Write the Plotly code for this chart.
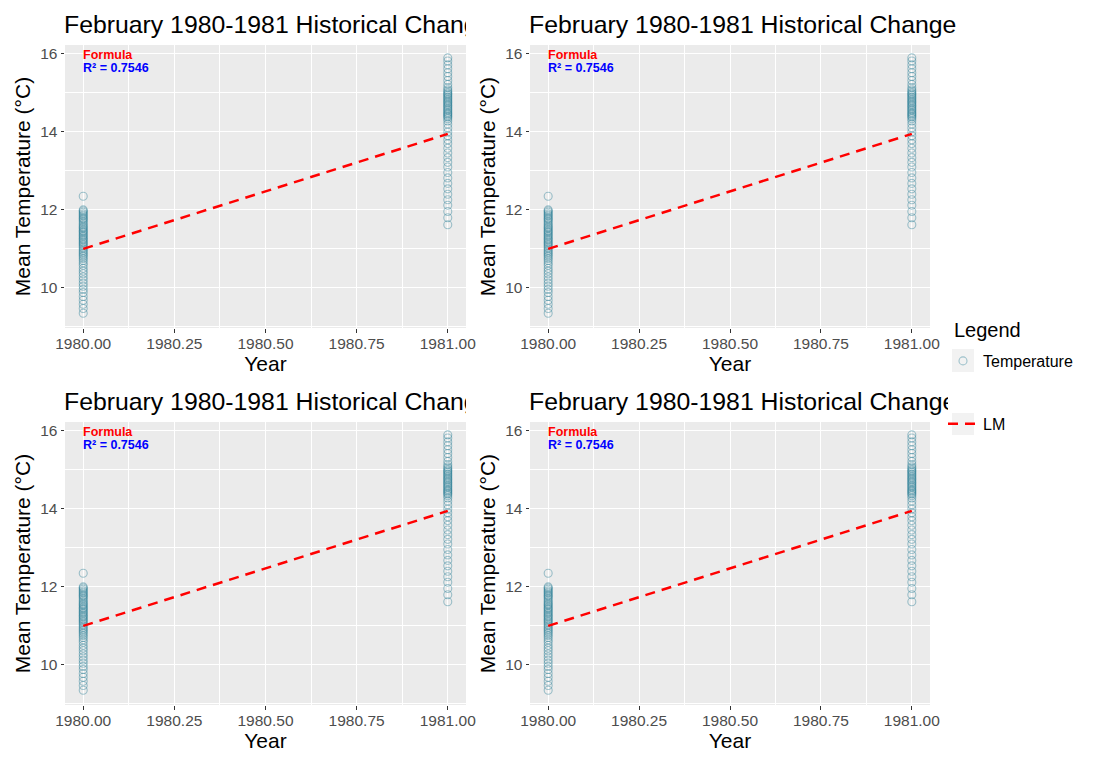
import plotly.graph_objects as go

# ---------------- data ----------------
years = [1980, 1981]
temp_1980 = [12.35, 12.0, 11.97, 11.94, 11.9, 11.87, 11.84, 11.8, 11.77, 11.74, 11.7, 11.66, 11.62,
             11.58, 11.55, 11.52, 11.48, 11.45, 11.42, 11.38, 11.35, 11.32, 11.28, 11.25, 11.22,
             11.18, 11.15, 11.12, 11.08, 11.04, 11.0, 10.96, 10.92, 10.88, 10.84, 10.8, 10.75,
             10.7, 10.64, 10.58, 10.5, 10.43, 10.36, 10.28, 10.2, 10.12, 10.04, 9.96, 9.88, 9.78,
             9.68, 9.58, 9.47, 9.35]
temp_1981 = [15.9, 15.82, 15.72, 15.62, 15.52, 15.42, 15.32, 15.22, 15.14, 15.08, 15.04, 15.0,
             14.97, 14.94, 14.9, 14.87, 14.84, 14.8, 14.77, 14.74, 14.7, 14.67, 14.64, 14.6,
             14.57, 14.54, 14.5, 14.47, 14.44, 14.41, 14.38, 14.34, 14.28, 14.2, 14.1, 14.0, 13.9,
             13.8, 13.7, 13.58, 13.46, 13.34, 13.22, 13.1, 12.96, 12.82, 12.68, 12.54, 12.4,
             12.26, 12.12, 11.96, 11.8, 11.62]
lm_fit = [11.0, 13.95]
x_ticks = [1980.0, 1980.25, 1980.5, 1980.75, 1981.0]
y_ticks = [10, 12, 14, 16]
titles = ["February 1980-1981 Historical Change"] * 4
formula_label = "Formula"
r2_label = "R² = 0.7546"
legend_title = "Legend"

# ---------------- layout helpers ----------------
OFF = 8                      # page body margin of the html page
W, H = 1103 - OFF, 768 - OFF
FONT = "Liberation Sans, Arial, sans-serif"


def px(x):
    return (x - OFF) / W


def py(y):
    return 1 - (y - OFF) / H


panels = [(65, 466, 45, 328), (530, 930, 45, 328), (65, 466, 422, 705), (530, 930, 422, 705)]
title_cells = [(64, 466, 12, 42), (529, 1040, 12, 42), (64, 466, 389, 419), (529, 948, 389, 419)]

xs = [years[0]] * len(temp_1980) + [years[1]] * len(temp_1981)
ys = temp_1980 + temp_1981

fig = go.Figure()
layout = dict(
    width=W, height=H,
    margin=dict(l=0, r=0, t=0, b=0),
    paper_bgcolor="white",
    plot_bgcolor="white",
    font=dict(family=FONT, color="black"),
    showlegend=True,
    annotations=[],
    shapes=[],
)

for i, (x0, x1, y0, y1) in enumerate(panels):
    n = i + 1
    xa = "x" if n == 1 else f"x{n}"
    ya = "y" if n == 1 else f"y{n}"
    fig.add_trace(go.Scatter(
        x=xs, y=ys, mode="markers", xaxis=xa, yaxis=ya,
        name="Temperature", legendgroup="temp", showlegend=(i == 0),
        marker=dict(symbol="circle-open", size=8, color="rgba(30,120,145,0.4)",
                    line=dict(width=1.1)),
        hoverinfo="skip",
    ))
    fig.add_trace(go.Scatter(
        x=years, y=lm_fit, mode="lines", xaxis=xa, yaxis=ya,
        name="LM", legendgroup="lm", showlegend=(i == 0),
        line=dict(color="red", width=2.5, dash="10px,7px"),
        hoverinfo="skip",
    ))
    layout["xaxis" if n == 1 else f"xaxis{n}"] = dict(
        domain=[px(x0), px(x1)], anchor=ya, range=[1979.95, 1981.05],
        tickvals=x_ticks, tickformat=".2f",
        ticks="outside", ticklen=3.5, tickwidth=1.1, tickcolor="#333333",
        tickfont=dict(size=15.5, color="#4d4d4d"), ticklabelstandoff=-2,
        showgrid=True, gridcolor="white", gridwidth=1.2, zeroline=False,
        minor=dict(dtick=0.25, tick0=1980.125, showgrid=True, gridcolor="white", gridwidth=0.55),
        title=dict(text="Year", font=dict(size=21), standoff=0),
        automargin=False, fixedrange=True,
    )
    layout["yaxis" if n == 1 else f"yaxis{n}"] = dict(
        domain=[py(y1), py(y0)], anchor=xa, range=[8.97, 16.23],
        tickvals=y_ticks,
        ticks="outside", ticklen=3.5, tickwidth=1.1, tickcolor="#333333",
        tickfont=dict(size=15.5, color="#4d4d4d"),
        showgrid=True, gridcolor="white", gridwidth=1.2, zeroline=False,
        minor=dict(dtick=2, tick0=9, showgrid=True, gridcolor="white", gridwidth=0.55),
        title=dict(text="Mean Temperature (°C)", font=dict(size=21), standoff=3),
        automargin=False, fixedrange=True,
    )
    # grey panel background
    layout["shapes"].append(dict(
        type="rect", xref=f"{xa} domain", yref=f"{ya} domain", x0=0, x1=1, y0=0, y1=1,
        fillcolor="#ebebeb", line=dict(width=0), layer="below"))
    # formula + R² block (one text, two coloured lines, tight line spacing)
    layout["annotations"].append(dict(
        x=1980.0, y=15.81, xref=xa, yref=ya,
        text=(f"<span style='font-size:12.5px;color:red'><b>{formula_label}</b></span><br>"
              f"<span style='font-size:12.5px;color:blue'><b>{r2_label}</b></span>"),
        showarrow=False, xanchor="left", yanchor="middle", align="left", xshift=-2,
        font=dict(size=10.2, color="black", family=FONT)))

    # panel titles, clipped to their cell via a text trace on a hidden axis
    tx0, tx1, ty0, ty1 = title_cells[i]
    m = i + 5
    fig.add_trace(go.Scatter(
        x=[0], y=[0.5], mode="text", text=[titles[i]], textposition="middle right",
        textfont=dict(size=24.8, color="black", family=FONT),
        xaxis=f"x{m}", yaxis=f"y{m}", showlegend=False, hoverinfo="skip", cliponaxis=True,
    ))
    layout[f"xaxis{m}"] = dict(domain=[px(tx0), min(px(tx1), 1)], anchor=f"y{m}", range=[0, 1],
                               visible=False, fixedrange=True)
    layout[f"yaxis{m}"] = dict(domain=[py(ty1), py(ty0)], anchor=f"x{m}", range=[0, 1],
                               visible=False, fixedrange=True)

layout["legend"] = dict(
    x=px(943), y=py(344), xanchor="left", yanchor="top",
    font=dict(size=16), tracegroupgap=39, traceorder="grouped",
    bgcolor="rgba(0,0,0,0)",
)
layout["annotations"].append(dict(
    x=px(952), y=py(330), xref="paper", yref="paper", text=legend_title,
    showarrow=False, xanchor="left", yanchor="middle", font=dict(size=20, color="black")))
layout["shapes"] += [
    dict(type="rect", xref="paper", yref="paper", x0=px(952), x1=px(974), y0=py(372), y1=py(349),
         fillcolor="#f2f2f2", line=dict(width=0), layer="below"),
    dict(type="rect", xref="paper", yref="paper", x0=px(952), x1=px(974), y0=py(435), y1=py(413),
         fillcolor="#f2f2f2", line=dict(width=0), layer="below"),
]

fig.update_layout(**layout)
fig.write_html("out.html")
